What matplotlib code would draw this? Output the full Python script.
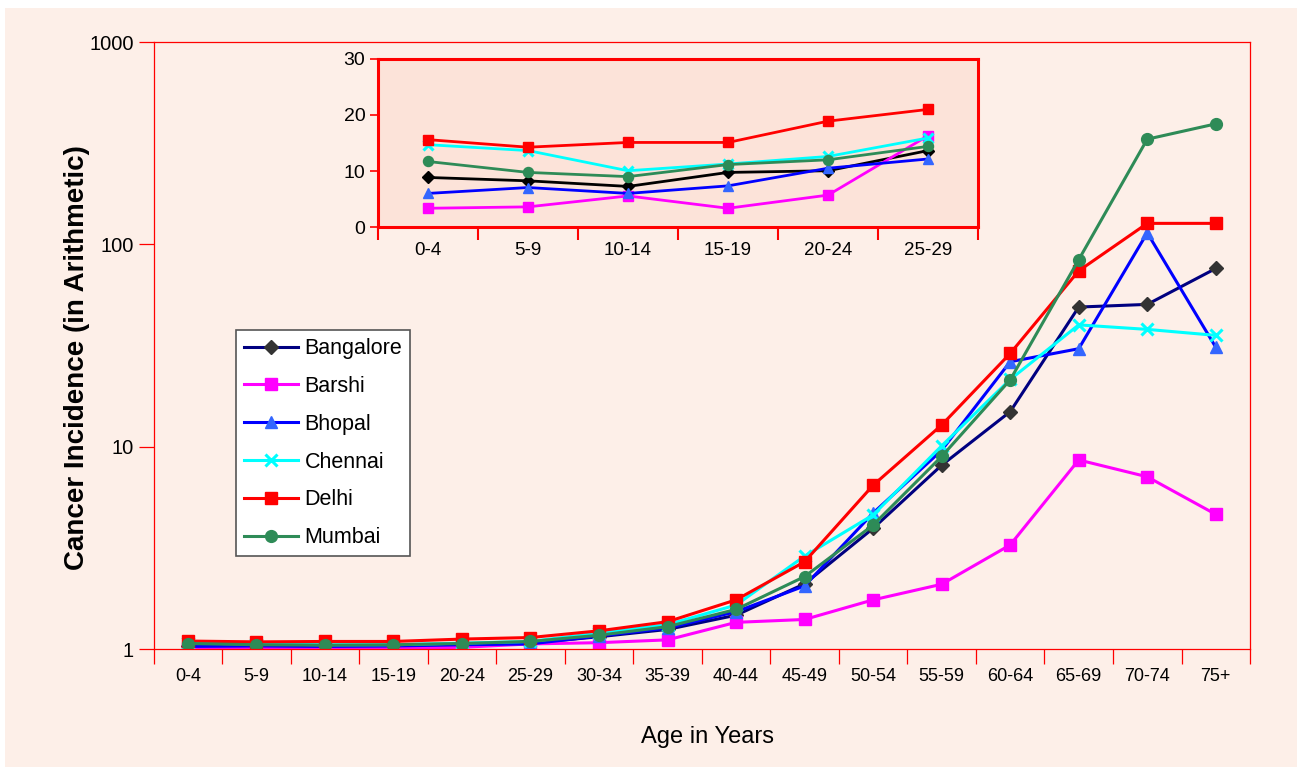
import matplotlib
matplotlib.use("Agg")
import matplotlib.pyplot as plt
from matplotlib.patches import Rectangle
import numpy as np

plt.rcParams['font.family'] = ['Liberation Sans', 'DejaVu Sans']

# age groups
ages = ['0-4', '5-9', '10-14', '15-19', '20-24', '25-29', '30-34', '35-39',
        '40-44', '45-49', '50-54', '55-59', '60-64', '65-69', '70-74', '75+']
inset_ages = ages[:6]

# main chart (log scale)
bangalore = [1.04, 1.04, 1.03, 1.04, 1.05, 1.07, 1.15, 1.25, 1.47, 2.1, 3.95, 8.1, 14.9, 49, 50.5, 76]
barshi = [1.01, 1.01, 1.01, 1.01, 1.02, 1.06, 1.075, 1.11, 1.355, 1.40, 1.75, 2.09, 3.27, 8.6, 7.1, 4.63]
bhopal = [1.03, 1.035, 1.03, 1.035, 1.05, 1.06, 1.16, 1.27, 1.53, 2.05, 4.7, 9.6, 26.3, 30.5, 114, 31]
chennai = [1.07, 1.06, 1.05, 1.05, 1.07, 1.09, 1.2, 1.32, 1.65, 2.88, 4.6, 10.1, 21.5, 40, 38, 35.5]
delhi = [1.095, 1.085, 1.09, 1.09, 1.12, 1.14, 1.23, 1.365, 1.75, 2.7, 6.45, 12.8, 28.9, 74, 127, 127]
mumbai = [1.065, 1.05, 1.045, 1.05, 1.065, 1.09, 1.17, 1.29, 1.57, 2.28, 4.1, 8.95, 21.4, 84, 331, 394]

# inset (arithmetic)
bangalore_in = [8.85, 8.25, 7.25, 9.75, 10.05, 13.65]
barshi_in = [3.35, 3.6, 5.55, 3.35, 5.7, 16.3]
bhopal_in = [6.0, 7.05, 6.0, 7.35, 10.5, 12.15]
chennai_in = [14.7, 13.65, 10.05, 11.25, 12.6, 15.9]
delhi_in = [15.6, 14.25, 15.1, 15.1, 18.9, 21.0]
mumbai_in = [11.7, 9.75, 9.0, 11.15, 12.0, 14.4]

bg = '#fdefe8'
inset_bg = '#fce3d9'
red = '#ff0000'

fig = plt.figure(figsize=(12.97, 7.67), dpi=100)
fig.patch.set_facecolor('white')
fig.patches.append(Rectangle((5/1297, 0), 1, 1 - 8/767, transform=fig.transFigure,
                             facecolor=bg, edgecolor='none', zorder=-10))

ax = fig.add_axes([0.1184, 0.1538, 0.8454, 0.7914])
ax.set_facecolor(bg)
x = np.arange(len(ages))

styles = [
    ('Bangalore', bangalore, dict(color='#000080', marker='D', mfc='#333333', mec='#333333', ms=7)),
    ('Barshi', barshi, dict(color='#ff00ff', marker='s', mfc='#ff00ff', mec='#ff00ff', ms=8.5)),
    ('Bhopal', bhopal, dict(color='#0000ff', marker='^', mfc='#3366ff', mec='#3366ff', ms=8.5)),
    ('Chennai', chennai, dict(color='#00ffff', marker='x', mfc='#00ffff', mec='#00ffff', ms=9, mew=2.2)),
    ('Delhi', delhi, dict(color='#ff0000', marker='s', mfc='#ff0000', mec='#ff0000', ms=8.5)),
    ('Mumbai', mumbai, dict(color='#2e8b57', marker='o', mfc='#2e8b57', mec='#2e8b57', ms=8.5)),
]

for name, vals, st in styles:
    ax.plot(x, vals, lw=2.2, label=name, **st)

ax.set_yscale('log')
ax.set_ylim(1, 1000)
ax.set_xlim(-0.5, len(ages) - 0.5)
ax.set_yticks([1, 10, 100, 1000])
ax.set_yticklabels(['1', '10', '100', '1000'])
ax.yaxis.set_minor_locator(matplotlib.ticker.NullLocator())
ax.set_xticks(x)
ax.set_xticklabels(ages)
ax.set_xticks(np.arange(-0.5, len(ages), 1), minor=True)
ax.tick_params(axis='x', which='major', length=0, pad=14, labelsize=13)
ax.tick_params(axis='x', which='minor', length=11, color=red, width=0.9, direction='out')
ax.tick_params(axis='y', which='major', length=11, color=red, width=0.9, labelsize=14.5, pad=3)
for s in ax.spines.values():
    s.set_color(red)
    s.set_linewidth(0.9)

ax.set_ylabel('Cancer Incidence (in Arithmetic)', fontsize=20, fontweight='bold')
ax.yaxis.set_label_coords(-0.058, 0.48)
ax.set_xlabel('Age in Years', fontsize=17, va='center')
ax.xaxis.set_label_coords(0.5048, -0.145)

leg = ax.legend(loc='upper left', bbox_to_anchor=(0.0752, 0.5255), fontsize=15.5,
                frameon=True, fancybox=False, edgecolor='#555555', framealpha=1,
                handlelength=2.5, handletextpad=0.3, labelspacing=0.78,
                borderpad=0.38, borderaxespad=0)
leg.get_frame().set_linewidth(1.2)

# inset
ins = fig.add_axes([0.2914, 0.7040, 0.4627, 0.2191])
ins.set_facecolor(inset_bg)
xi = np.arange(len(inset_ages))
inset_data = [bangalore_in, barshi_in, bhopal_in, chennai_in, delhi_in, mumbai_in]
for (name, vals, st), vin in zip(styles, inset_data):
    st2 = dict(st)
    if name == 'Bangalore':
        st2.update(color='black', mfc='black', mec='black')
    st2['ms'] = st2['ms'] * 0.85
    ins.plot(xi, vin, lw=2.0, **st2)
ins.set_ylim(0, 30)
ins.set_xlim(-0.5, len(inset_ages) - 0.5)
ins.set_yticks([0, 10, 20, 30])
ins.set_xticks(xi)
ins.set_xticklabels(inset_ages)
ins.set_xticks(np.arange(-0.5, len(inset_ages), 1), minor=True)
ins.tick_params(axis='x', which='major', length=0, pad=11, labelsize=13.5)
ins.tick_params(axis='x', which='minor', length=9, color=red, width=1.5)
ins.tick_params(axis='y', length=6, color=red, width=1.2, labelsize=14, pad=3)
for s in ins.spines.values():
    s.set_color(red)
    s.set_linewidth(2.2)

plt.savefig('out.png', dpi=100, facecolor=fig.get_facecolor())
